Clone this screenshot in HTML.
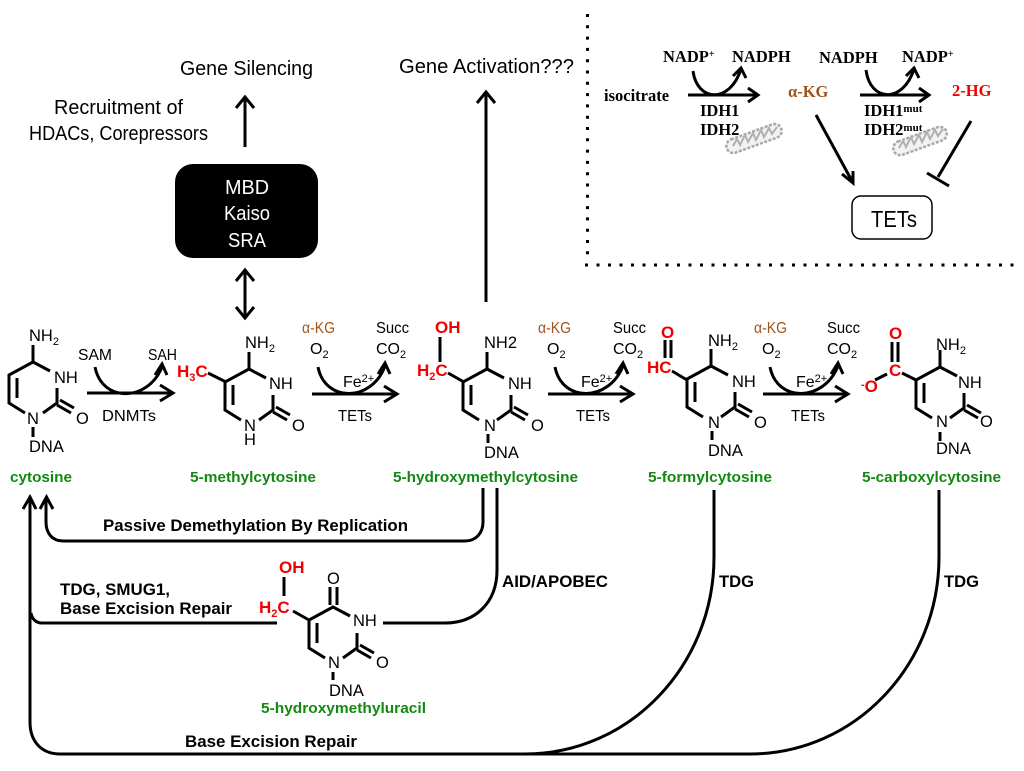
<!DOCTYPE html>
<html><head><meta charset="utf-8"><style>
html,body{margin:0;padding:0;background:#fff}
svg{display:block}
text{font-family:"Liberation Sans",sans-serif;fill:#000}
.s{font-size:16.5px}
.m{font-size:16px}
.g{font-size:15px;font-weight:bold;fill:#128a12}
.b{font-size:16.5px;font-weight:bold}
.r{font-weight:bold;fill:#f00000;font-size:17px}
.k{font-size:15.5px;fill:#a0541c}
.t{font-size:20px}
.f{font-family:"Liberation Serif",serif;font-weight:bold;font-size:16.5px}
.w{fill:#fff;font-size:20px}
.l{fill:none;stroke:#000;stroke-width:3}
</style></head><body>
<svg width="1024" height="771" viewBox="0 0 1024 771" xmlns="http://www.w3.org/2000/svg">
<defs>
<g id="ring" class="l">
<polyline points="50,371 33,362 9,375 9,403 25,413"/>
<line x1="17" y1="378" x2="17" y2="398"/>
<polyline points="57,388 57,403 43,413"/>
<line x1="60" y1="400" x2="74" y2="408"/>
<line x1="57" y1="405" x2="71" y2="413"/>
</g>
</defs>

<!-- Top labels -->
<text class="t" x="180" y="75" textLength="133" lengthAdjust="spacingAndGlyphs">Gene Silencing</text>
<text class="t" x="399" y="73" textLength="175" lengthAdjust="spacingAndGlyphs">Gene Activation???</text>
<text class="t" x="54" y="114" textLength="129" lengthAdjust="spacingAndGlyphs">Recruitment of</text>
<text class="t" x="29" y="140" textLength="179" lengthAdjust="spacingAndGlyphs">HDACs, Corepressors</text>

<path class="l" d="M245,147V99M236,108L245,97L254,108"/>
<path class="l" d="M486,302V94M477,103L486,92L495,103"/>
<rect x="175" y="164" width="143" height="94" rx="18" fill="#000"/>
<text class="w" x="247" y="194" text-anchor="middle" textLength="44" lengthAdjust="spacingAndGlyphs">MBD</text>
<text class="w" x="247" y="220" text-anchor="middle" textLength="46" lengthAdjust="spacingAndGlyphs">Kaiso</text>
<text class="w" x="247" y="247" text-anchor="middle" textLength="38" lengthAdjust="spacingAndGlyphs">SRA</text>
<path class="l" d="M245,272V316M236,281L245,270L254,281M236,307L245,318L254,307"/>

<!-- Inset -->
<path d="M587.5,14V262" stroke="#000" stroke-width="3" stroke-dasharray="3 8.3" fill="none"/>
<path d="M585,265H1018" stroke="#000" stroke-width="3" stroke-dasharray="3 8.5" fill="none"/>
<g fill="#f2f2f2" stroke="#a8a8a8" stroke-width="2.5" stroke-dasharray="3 1.5">
<rect x="-29" y="-7" width="58" height="14" rx="7" transform="translate(754,138.5) rotate(-20)"/>
<rect x="-28" y="-7" width="56" height="14" rx="7" transform="translate(920,141) rotate(-20)"/>
</g>
<g fill="none" stroke="#b0b0b0" stroke-width="2">
<path d="M733,146l4,-7l3,6l5,-10l3,7l5,-9l3,7l5,-10l3,7l5,-9l3,6l5,-7"/>
<path d="M899,148l4,-7l3,6l5,-10l3,7l5,-9l3,7l5,-10l3,7l5,-9l3,6l5,-7"/>
</g>
<text class="f" x="663" y="62">NADP<tspan dy="-5" font-size="10">+</tspan></text>
<text class="f" x="732" y="62">NADPH</text>
<text class="f" x="819" y="63">NADPH</text>
<text class="f" x="902" y="62">NADP<tspan dy="-5" font-size="10">+</tspan></text>
<text class="f" x="604" y="101">isocitrate</text>
<text class="f" x="788" y="97" style="fill:#a0541c">α-KG</text>
<text class="f" x="952" y="96" style="fill:#f00000">2-HG</text>
<text class="f" x="700" y="116">IDH1</text>
<text class="f" x="700" y="135">IDH2</text>
<text class="f" x="864" y="116">IDH1<tspan dy="-4" font-size="11">mut</tspan></text>
<text class="f" x="864" y="135">IDH2<tspan dy="-4" font-size="11">mut</tspan></text>
<path class="l" d="M688,95H758M748,88L758,95L748,102"/>
<path class="l" d="M693,71C697,102 730,104 741,69M733,76L741,68L746,78"/>
<path class="l" d="M860,95H929M919,88L929,95L919,102"/>
<path class="l" d="M866,70C870,102 903,104 914,69M906,76L914,68L919,78"/>
<path class="l" d="M816,115L852,181M842,174L853,183L853,171"/>
<path class="l" d="M971,121L938,177M927,173L949,186"/>
<rect x="852" y="196" width="80" height="43" rx="9" fill="#fff" stroke="#000" stroke-width="1.5"/>
<text x="871" y="227" font-size="23" textLength="46" lengthAdjust="spacingAndGlyphs">TETs</text>

<!-- Reaction arrows -->
<path class="l" d="M87,393H172M160,385L173,393L160,401"/>
<path class="l" d="M95,367C102,403 148,402 162,367M155,375L162,364L167,375"/>
<path class="l" d="M312,394H396M384,386L397,394L384,402"/>
<path class="l" d="M318,367C325,403 372,402 385,366M378,374L385,363L390,374"/>
<path class="l" d="M548,394H632M620,386L633,394L620,402"/>
<path class="l" d="M555,367C562,403 609,402 623,366M616,374L623,363L628,374"/>
<path class="l" d="M763,394H847M835,386L848,394L835,402"/>
<path class="l" d="M770,367C777,403 824,402 838,366M831,374L838,363L843,374"/>

<text class="m" x="78" y="360" textLength="34" lengthAdjust="spacingAndGlyphs">SAM</text>
<text class="m" x="148" y="360" textLength="29" lengthAdjust="spacingAndGlyphs">SAH</text>
<text class="m" x="102" y="421" textLength="54" lengthAdjust="spacingAndGlyphs">DNMTs</text>

<text class="k" x="302" y="333" textLength="33" lengthAdjust="spacingAndGlyphs">α-KG</text>
<text class="m" x="310" y="354">O<tspan dy="4" font-size="11">2</tspan></text>
<text class="m" x="376" y="333" textLength="33" lengthAdjust="spacingAndGlyphs">Succ</text>
<text class="m" x="376" y="354">CO<tspan dy="4" font-size="11">2</tspan></text>
<text class="m" x="343" y="387">Fe<tspan dy="-5" font-size="11">2+</tspan></text>
<text class="m" x="338" y="421" textLength="34" lengthAdjust="spacingAndGlyphs">TETs</text>

<text class="k" x="538" y="333" textLength="33" lengthAdjust="spacingAndGlyphs">α-KG</text>
<text class="m" x="547" y="354">O<tspan dy="4" font-size="11">2</tspan></text>
<text class="m" x="613" y="333" textLength="33" lengthAdjust="spacingAndGlyphs">Succ</text>
<text class="m" x="613" y="354">CO<tspan dy="4" font-size="11">2</tspan></text>
<text class="m" x="581" y="387">Fe<tspan dy="-5" font-size="11">2+</tspan></text>
<text class="m" x="576" y="421" textLength="34" lengthAdjust="spacingAndGlyphs">TETs</text>

<text class="k" x="754" y="333" textLength="33" lengthAdjust="spacingAndGlyphs">α-KG</text>
<text class="m" x="762" y="354">O<tspan dy="4" font-size="11">2</tspan></text>
<text class="m" x="827" y="333" textLength="33" lengthAdjust="spacingAndGlyphs">Succ</text>
<text class="m" x="827" y="354">CO<tspan dy="4" font-size="11">2</tspan></text>
<text class="m" x="796" y="387">Fe<tspan dy="-5" font-size="11">2+</tspan></text>
<text class="m" x="791" y="421" textLength="34" lengthAdjust="spacingAndGlyphs">TETs</text>

<!-- Cytosine -->
<use href="#ring"/>
<path class="l" d="M33,345V362M33,427V437"/>
<text class="s" x="29" y="341">NH<tspan dy="4" font-size="11">2</tspan></text>
<text class="s" x="54" y="383">NH</text>
<text class="s" x="27" y="424">N</text>
<text class="s" x="76" y="424">O</text>
<text class="s" x="29" y="452">DNA</text>
<text class="g" x="10" y="482" textLength="62" lengthAdjust="spacingAndGlyphs">cytosine</text>

<!-- 5-methylcytosine -->
<use href="#ring" x="216" y="7"/>
<path class="l" d="M249,352V369M208,373L226,382"/>
<text class="s" x="245" y="348">NH<tspan dy="4" font-size="11">2</tspan></text>
<text class="s" x="269" y="389">NH</text>
<text class="s" x="244" y="431">N</text>
<text class="s" x="292" y="431">O</text>
<text class="s" x="244" y="445">H</text>
<text class="r" x="177" y="377">H<tspan dy="4" font-size="11">3</tspan><tspan dy="-4">C</tspan></text>
<text class="g" x="190" y="482" textLength="126" lengthAdjust="spacingAndGlyphs">5-methylcytosine</text>

<!-- 5-hmC -->
<use href="#ring" x="454" y="7"/>
<path class="l" d="M487,352V369M488,434V443M440,337V362M448,373L464,382"/>
<text class="s" x="484" y="348">NH2</text>
<text class="s" x="508" y="389">NH</text>
<text class="s" x="484" y="431">N</text>
<text class="s" x="531" y="431">O</text>
<text class="s" x="484" y="458">DNA</text>
<text class="r" x="435" y="333">OH</text>
<text class="r" x="417" y="376">H<tspan dy="4" font-size="11">2</tspan><tspan dy="-4">C</tspan></text>
<text class="g" x="393" y="482" textLength="185" lengthAdjust="spacingAndGlyphs">5-hydroxymethylcytosine</text>

<!-- 5-fC -->
<use href="#ring" x="678" y="4"/>
<path class="l" d="M711,349V366M712,431V440M665,340V358M671,340V358M672,371L687,380"/>
<text class="s" x="708" y="346">NH<tspan dy="4" font-size="11">2</tspan></text>
<text class="s" x="732" y="387">NH</text>
<text class="s" x="708" y="428">N</text>
<text class="s" x="754" y="428">O</text>
<text class="s" x="708" y="456">DNA</text>
<text class="r" x="661" y="338">O</text>
<text class="r" x="647" y="373">HC</text>
<text class="g" x="648" y="482" textLength="124" lengthAdjust="spacingAndGlyphs">5-formylcytosine</text>

<!-- 5-caC -->
<use href="#ring" x="907" y="5"/>
<path class="l" d="M940,350V367M940,432V441M892,342V362M898,342V362M875,380L887,374M902,373L916,380"/>
<text class="s" x="936" y="350">NH<tspan dy="4" font-size="11">2</tspan></text>
<text class="s" x="958" y="388">NH</text>
<text class="s" x="936" y="427">N</text>
<text class="s" x="980" y="427">O</text>
<text class="s" x="936" y="454">DNA</text>
<text class="r" x="889" y="339">O</text>
<text class="r" x="889" y="376">C</text>
<text class="r" x="861" y="392"><tspan dy="-4" font-size="11">-</tspan><tspan dy="4">O</tspan></text>
<text class="g" x="862" y="482" textLength="139" lengthAdjust="spacingAndGlyphs">5-carboxylcytosine</text>

<!-- Bottom connectors -->
<path class="l" d="M30,498V722C30,742 42,754 60,754H750C855,754 939,665 939,557V490"/>
<path class="l" d="M714,490V557C714,665 630,754 525,754"/>
<path class="l" d="M23,509L30,497L36,509"/>
<path class="l" d="M46,498V522C46,533 52,541 63,541H465C476,541 483,533 483,522V488M40,509L46.5,497L53,509"/>
<path class="l" d="M497,488V570C497,603 475,623 445,623H383"/>
<path class="l" d="M277,623H42C36,623 32,619 31,613"/>

<text class="b" x="103" y="531" textLength="305" lengthAdjust="spacingAndGlyphs">Passive Demethylation By Replication</text>
<text class="b" x="60" y="595" textLength="110" lengthAdjust="spacingAndGlyphs">TDG, SMUG1,</text>
<text class="b" x="60" y="614" textLength="172" lengthAdjust="spacingAndGlyphs">Base Excision Repair</text>
<text class="b" x="185" y="747" textLength="172" lengthAdjust="spacingAndGlyphs">Base Excision Repair</text>
<text class="b" x="502" y="587" textLength="106" lengthAdjust="spacingAndGlyphs">AID/APOBEC</text>
<text class="b" x="719" y="587" textLength="35" lengthAdjust="spacingAndGlyphs">TDG</text>
<text class="b" x="944" y="587" textLength="35" lengthAdjust="spacingAndGlyphs">TDG</text>

<!-- 5-hmU -->
<use href="#ring" x="300" y="245"/>
<path class="l" d="M330,587V605M337,587V605M333,672V680M284,577V596M293,611L309,620"/>
<text class="s" x="327" y="584">O</text>
<text class="s" x="353" y="626">NH</text>
<text class="s" x="328" y="668">N</text>
<text class="s" x="376" y="668">O</text>
<text class="s" x="329" y="696">DNA</text>
<text class="r" x="279" y="573">OH</text>
<text class="r" x="259" y="613">H<tspan dy="4" font-size="11">2</tspan><tspan dy="-4">C</tspan></text>
<text class="g" x="261" y="713" textLength="165" lengthAdjust="spacingAndGlyphs">5-hydroxymethyluracil</text>
</svg>
</body></html>
